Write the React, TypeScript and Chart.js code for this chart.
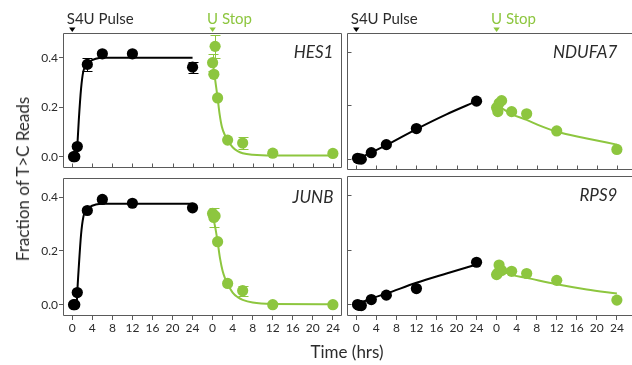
import React, { useEffect, useRef } from "react";
import { Chart, registerables } from "chart.js";
Chart.register(...registerables);

// ---------- data ----------
const PULSE_T = [0.25, 0.5, 1, 3, 6, 12, 24];
const CHASE_T = [0, 0.25, 0.5, 1, 3, 6, 12, 24];
const X_TICKS = [0, 4, 8, 12, 16, 20, 24];
const X_TICK_LABELS = ["0", "4", "8", "12", "16", "20", "24"];
const Y_TICKS = [0, 0.2, 0.4];
const Y_TICK_LABELS = ["0.0", "0.2", "0.4"];
const CHASE_OFFSET = 28;
const PULSE_LABEL = "S4U Pulse";
const CHASE_LABEL = "U Stop";
const X_TITLE = "Time (hrs)";
const Y_TITLE = "Fraction of T>C Reads";

const HES1_PULSE = [0.0, 0.0, 0.041, 0.373, 0.416, 0.416, 0.362];
const HES1_PULSE_ERR = [0, 0, 0, 0.025, 0, 0, 0.022];
const HES1_CHASE = [0.38, 0.333, 0.446, 0.2375, 0.067, 0.055, 0.014, 0.013];
const HES1_CHASE_ERR = [0.034, 0, 0.046, 0, 0, 0.026, 0, 0];
const HES1_PFIT_T = [0.9, 1, 1.3, 1.75, 2.2, 2.75, 3.5, 4.7, 6, 24];
const HES1_PFIT = [0.0, 0.04, 0.147, 0.274, 0.345, 0.366, 0.385, 0.396, 0.4, 0.4];
const HES1_CFIT_T = [0, 0.25, 0.67, 1, 1.4, 1.85, 2.5, 3, 4, 5, 6, 8, 12, 24];
const HES1_CFIT = [0.375, 0.35, 0.287, 0.2375, 0.172, 0.121, 0.085, 0.066, 0.038, 0.022, 0.014, 0.008, 0.005, 0.005];

const NDUFA7_PULSE = [0.003, 0.001, 0.0, 0.024, 0.054, 0.114, 0.216];
const NDUFA7_PULSE_ERR = [0, 0, 0, 0, 0, 0, 0];
const NDUFA7_CHASE = [0.192, 0.177, 0.208, 0.218, 0.177, 0.169, 0.105, 0.036];
const NDUFA7_CHASE_ERR = [0.01, 0, 0, 0, 0, 0, 0, 0];
const NDUFA7_PFIT_T = [0.25, 3, 6, 12, 18, 24];
const NDUFA7_PFIT = [0.0, 0.025, 0.052, 0.112, 0.167, 0.216];
const NDUFA7_CFIT_T = [0, 1, 3, 6, 9, 12, 18, 24];
const NDUFA7_CFIT = [0.2, 0.19, 0.168, 0.146, 0.122, 0.102, 0.077, 0.054];

const JUNB_PULSE = [0.0, 0.0, 0.045, 0.35, 0.391, 0.377, 0.36];
const JUNB_PULSE_ERR = [0, 0, 0, 0, 0, 0, 0];
const JUNB_CHASE = [0.339, 0.324, 0.33, 0.234, 0.079, 0.052, 0.0, 0.0];
const JUNB_CHASE_ERR = [0, 0.035, 0, 0, 0, 0.018, 0, 0];
const JUNB_PFIT_T = [0.9, 1, 1.3, 1.75, 2.2, 2.75, 3.5, 4.7, 6, 24];
const JUNB_PFIT = [0.0, 0.045, 0.14, 0.26, 0.325, 0.348, 0.363, 0.372, 0.375, 0.375];
const JUNB_CFIT_T = [0, 0.5, 1, 1.5, 2, 2.5, 3, 4, 5, 6, 8, 12, 24];
const JUNB_CFIT = [0.33, 0.29, 0.234, 0.17, 0.125, 0.097, 0.077, 0.045, 0.028, 0.018, 0.008, 0.003, 0.002];

const RPS9_PULSE = [0.0, -0.003, -0.004, 0.018, 0.034, 0.058, 0.154];
const RPS9_PULSE_ERR = [0, 0, 0, 0, 0, 0, 0];
const RPS9_CHASE = [0.109, 0.115, 0.144, 0.124, 0.121, 0.113, 0.088, 0.016];
const RPS9_CHASE_ERR = [0, 0, 0, 0, 0, 0, 0, 0];
const RPS9_PFIT_T = [0.25, 3, 6, 12, 18, 24];
const RPS9_PFIT = [0.002, 0.022, 0.04, 0.079, 0.113, 0.146];
const RPS9_CFIT_T = [1, 3, 6, 12, 18, 24];
const RPS9_CFIT = [0.122, 0.108, 0.097, 0.074, 0.055, 0.04];

const BLACK = "#000000";
const GREEN = "#8dc63f";
const FRAME = "#5a5a5a";
const TEXT = "#2b2b2b";
const FONT = "Lato";

// ---------- plugin ----------
const decoPlugin: any = {
  id: "panelDeco",
  beforeDatasetsDraw(chart: any, _a: any, o: any) {
    const ctx = chart.ctx;
    const ca = chart.chartArea;
    const xs = chart.scales.x;
    const ys = chart.scales.y;
    ctx.save();
    ctx.strokeStyle = FRAME;
    ctx.lineWidth = 1;
    const L = Math.round(ca.left) + 0.5, T = Math.round(ca.top) + 0.5;
    const R = Math.round(ca.right) - 0.5, B = Math.round(ca.bottom) - 0.5;
    ctx.beginPath();
    if (o.col === 0) {
      ctx.moveTo(L, T); ctx.lineTo(R, T); ctx.lineTo(R, B); ctx.lineTo(L, B); ctx.closePath();
    } else {
      const W = chart.width;
      ctx.moveTo(W, T); ctx.lineTo(L, T); ctx.lineTo(L, B); ctx.lineTo(W, B);
    }
    ctx.stroke();
    ctx.beginPath();
    if (o.row === 0) {
      const vals = [...X_TICKS, ...X_TICKS.map((v) => v + CHASE_OFFSET)];
      vals.forEach((v) => {
        const x = Math.round(xs.getPixelForValue(v)) + 0.5;
        ctx.moveTo(x, B); ctx.lineTo(x, B - 4);
      });
    }
    if (o.col === 1) {
      Y_TICKS.forEach((v) => {
        const y = Math.round(ys.getPixelForValue(v)) + 0.5;
        ctx.moveTo(L, y); ctx.lineTo(L + 4, y);
      });
    }
    ctx.stroke();
    chart.data.datasets.forEach((ds: any, di: number) => {
      if (!ds.errors) return;
      const meta = chart.getDatasetMeta(di);
      ctx.strokeStyle = ds.backgroundColor;
      ctx.lineWidth = 1;
      ds.data.forEach((d: any, i: number) => {
        const e = ds.errors[i];
        if (!e) return;
        const x = Math.round(meta.data[i].x) + 0.5;
        const y1 = Math.round(ys.getPixelForValue(d.y + e)) + 0.5;
        const y2 = Math.round(ys.getPixelForValue(d.y - e)) + 0.5;
        ctx.beginPath();
        ctx.moveTo(x, y1); ctx.lineTo(x, y2);
        ctx.moveTo(x - 5, y1); ctx.lineTo(x + 5, y1);
        ctx.moveTo(x - 5, y2); ctx.lineTo(x + 5, y2);
        ctx.stroke();
      });
    });
    ctx.restore();
  },
  afterDraw(chart: any, _a: any, o: any) {
    const ctx = chart.ctx;
    const ca = chart.chartArea;
    const xs = chart.scales.x;
    ctx.save();
    ctx.fillStyle = TEXT;
    ctx.font = `italic 17px ${FONT}`;
    ctx.textAlign = "right";
    ctx.textBaseline = "alphabetic";
    ctx.fillText(o.gene, xs.getPixelForValue(CHASE_OFFSET + 24) + 0.5, ca.top + 25);
    if (o.row === 0) {
      const marks = [
        { x: xs.getPixelForValue(0), label: PULSE_LABEL, color: BLACK },
        { x: xs.getPixelForValue(CHASE_OFFSET), label: CHASE_LABEL, color: GREEN },
      ];
      marks.forEach((m) => {
        ctx.fillStyle = m.color === BLACK ? TEXT : m.color;
        ctx.font = `15px ${FONT}`;
        ctx.textAlign = "left";
        ctx.fillText(m.label, m.x - 5.5, ca.top - 9);
        ctx.fillStyle = m.color;
        ctx.beginPath();
        ctx.moveTo(m.x - 3.2, ca.top - 5.5);
        ctx.lineTo(m.x + 3.2, ca.top - 5.5);
        ctx.lineTo(m.x, ca.top - 1);
        ctx.closePath();
        ctx.fill();
      });
    }
    ctx.restore();
  },
};

// ---------- panel ----------
type PanelProps = {
  gene: string;
  row: number;
  col: number;
  pulse: number[];
  pulseErr: number[];
  chase: number[];
  chaseErr: number[];
  pfitT: number[];
  pfit: number[];
  cfitT: number[];
  cfit: number[];
  yMin: number;
  yMax: number;
};

function Panel(p: PanelProps) {
  const ref = useRef<HTMLCanvasElement>(null);
  const left = p.col === 0 ? 0 : 340;
  const width = p.col === 0 ? 348 : 292;
  const top = p.row === 0 ? 0 : 170;
  const height = p.row === 0 ? 176 : 195;

  useEffect(() => {
    const canvas = ref.current;
    if (!canvas) return;
    const pts = (ts: number[], vs: number[], off: number) => ts.map((t, i) => ({ x: t + off, y: vs[i] }));
    const pointDs = (data: any[], color: string, errs: number[]) => ({
      type: "scatter",
      data,
      backgroundColor: color,
      borderColor: color,
      borderWidth: 0,
      pointRadius: 5.6,
      pointHoverRadius: 5.6,
      showLine: false,
      errors: errs,
      order: 0,
      clip: false,
    });
    const lineDs = (data: any[], color: string) => ({
      type: "scatter",
      data,
      borderColor: color,
      backgroundColor: color,
      borderWidth: 2,
      pointRadius: 0,
      showLine: true,
      cubicInterpolationMode: "monotone",
      order: 1,
      clip: false,
    });

    const xTickVals = [...X_TICKS, ...X_TICKS.map((v) => v + CHASE_OFFSET)];
    const labelFor = (v: number) => {
      let i = X_TICKS.indexOf(v);
      if (i < 0) i = X_TICKS.indexOf(Math.round((v - CHASE_OFFSET) * 1000) / 1000);
      return i >= 0 ? X_TICK_LABELS[i] : "";
    };
    const showX = p.row === 1;
    const showY = p.col === 0;

    const chart = new Chart(canvas, {
      type: "scatter",
      data: {
        datasets: [
          pointDs(pts(PULSE_T, p.pulse, 0), BLACK, p.pulseErr),
          pointDs(pts(CHASE_T, p.chase, CHASE_OFFSET), GREEN, p.chaseErr),
          lineDs(pts(p.pfitT, p.pfit, 0), BLACK),
          lineDs(pts(p.cfitT, p.cfit, CHASE_OFFSET), GREEN),
        ] as any,
      },
      options: {
        responsive: false,
        animation: false,
        devicePixelRatio: 1,
        events: [],
        layout: {
          padding: {
            left: showY ? 0 : 7,
            right: 1,
            top: p.row === 0 ? 33 : 5,
            bottom: showX ? 29 : 1,
          },
        },
        plugins: {
          legend: { display: false },
          tooltip: { enabled: false },
          panelDeco: { gene: p.gene, row: p.row, col: p.col },
        } as any,
        scales: {
          x: {
            type: "linear",
            min: -1.85,
            max: 53.9,
            display: showX,
            afterBuildTicks: (s: any) => {
              s.ticks = xTickVals.map((v) => ({ value: v }));
            },
            afterFit: (s: any) => {
              s.height = showX ? 20 : 0;
            },
            grid: {
              display: true,
              drawOnChartArea: false,
              drawTicks: true,
              tickLength: 4,
              color: FRAME,
              lineWidth: 1,
            },
            border: { display: false },
            ticks: {
              autoSkip: false,
              maxRotation: 0,
              padding: 1,
              color: TEXT,
              font: { family: FONT, size: 12 },
              callback: (v: any) => labelFor(Number(v)),
            },
          },
          y: {
            type: "linear",
            min: p.yMin,
            max: p.yMax,
            display: showY,
            afterBuildTicks: (s: any) => {
              s.ticks = Y_TICKS.map((v) => ({ value: v }));
            },
            afterFit: (s: any) => {
              s.width = showY ? 63 : 0;
            },
            grid: {
              display: true,
              drawOnChartArea: false,
              drawTicks: true,
              tickLength: 4,
              color: FRAME,
              lineWidth: 1,
            },
            border: { display: false },
            ticks: {
              padding: 1,
              color: TEXT,
              font: { family: FONT, size: 12 },
              callback: (v: any) => {
                const i = Y_TICKS.findIndex((t) => Math.abs(t - Number(v)) < 1e-9);
                return i >= 0 ? Y_TICK_LABELS[i] : "";
              },
            },
          },
        },
      } as any,
      plugins: [decoPlugin],
    });
    return () => chart.destroy();
  }, []);

  return (
    <canvas
      ref={ref}
      width={width}
      height={height}
      style={{ position: "absolute", left, top, width, height }}
    />
  );
}

export default function App() {
  return (
    <div
      style={{
        position: "fixed",
        left: 0,
        top: 0,
        width: 632,
        height: 365,
        background: "#ffffff",
        overflow: "hidden",
        fontFamily: FONT,
      }}
    >
      <Panel gene="HES1" row={0} col={0} pulse={HES1_PULSE} pulseErr={HES1_PULSE_ERR} chase={HES1_CHASE} chaseErr={HES1_CHASE_ERR} pfitT={HES1_PFIT_T} pfit={HES1_PFIT} cfitT={HES1_CFIT_T} cfit={HES1_CFIT} yMin={-0.045} yMax={0.5} />
      <Panel gene="NDUFA7" row={0} col={1} pulse={NDUFA7_PULSE} pulseErr={NDUFA7_PULSE_ERR} chase={NDUFA7_CHASE} chaseErr={NDUFA7_CHASE_ERR} pfitT={NDUFA7_PFIT_T} pfit={NDUFA7_PFIT} cfitT={NDUFA7_CFIT_T} cfit={NDUFA7_CFIT} yMin={-0.042} yMax={0.47} />
      <Panel gene="JUNB" row={1} col={0} pulse={JUNB_PULSE} pulseErr={JUNB_PULSE_ERR} chase={JUNB_CHASE} chaseErr={JUNB_CHASE_ERR} pfitT={JUNB_PFIT_T} pfit={JUNB_PFIT} cfitT={JUNB_CFIT_T} cfit={JUNB_CFIT} yMin={-0.042} yMax={0.47} />
      <Panel gene="RPS9" row={1} col={1} pulse={RPS9_PULSE} pulseErr={RPS9_PULSE_ERR} chase={RPS9_CHASE} chaseErr={RPS9_CHASE_ERR} pfitT={RPS9_PFIT_T} pfit={RPS9_PFIT} cfitT={RPS9_CFIT_T} cfit={RPS9_CFIT} yMin={-0.042} yMax={0.47} />
      <div
        style={{
          position: "absolute",
          left: 23,
          top: 179,
          transform: "translate(-50%, -50%) rotate(-90deg)",
          whiteSpace: "nowrap",
          font: `17px ${FONT}`,
          color: TEXT,
          lineHeight: "20px",
        }}
      >
        {Y_TITLE}
      </div>
      <div
        style={{
          position: "absolute",
          left: 347,
          top: 352,
          transform: "translate(-50%, -50%)",
          whiteSpace: "nowrap",
          font: `17px ${FONT}`,
          color: TEXT,
          lineHeight: "20px",
        }}
      >
        {X_TITLE}
      </div>
    </div>
  );
}
